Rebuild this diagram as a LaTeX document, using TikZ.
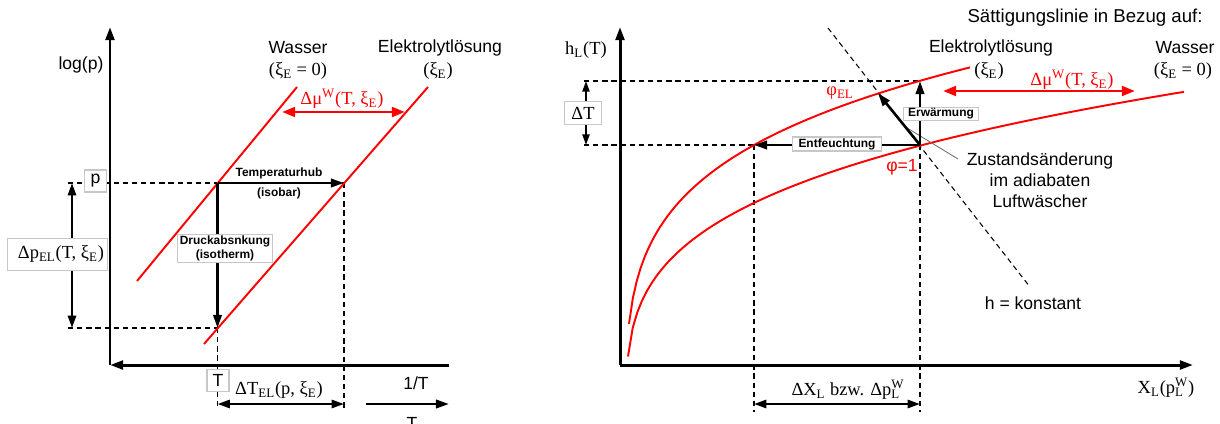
\documentclass[tikz,border=0pt]{standalone}
\usepackage{fontspec}
\setmainfont{Liberation Sans}
\newfontfamily\mfont{Liberation Serif}
\usetikzlibrary{arrows.meta,calc}
\newcommand{\supsub}[2]{{\ooalign{\textsuperscript{#1}\cr\textsubscript{#2}}}}
\begin{document}
\begin{tikzpicture}[x=0.02cm, y=-0.02cm,
  axisline/.style={line width=1.7pt, -{Triangle[length=7.5pt,width=5pt]}},
  proc/.style={line width=1.5pt, -{Triangle[length=7.5pt,width=4.8pt]}},
  dproc/.style={line width=1.4pt, {Triangle[length=7pt,width=4.6pt]}-{Triangle[length=7pt,width=4.6pt]}},
  thinda/.style={line width=1.1pt, {Triangle[length=6pt,width=4pt]}-{Triangle[length=6pt,width=4pt]}},
  redline/.style={red, line width=1.1pt},
  redarrow/.style={red, line width=1.7pt, {Triangle[length=7.5pt,width=5.5pt]}-{Triangle[length=7.5pt,width=5.5pt]}},
  dline/.style={line width=0.6pt, dash pattern=on 3pt off 2.2pt},
  lbox/.style={draw=black!22, fill=white, line width=0.6pt, inner xsep=2pt, inner ysep=1.5pt},
  sf/.style={font=\fontsize{10}{12}\selectfont},
  sfb/.style={font=\bfseries\fontsize{6.8}{8}\selectfont, align=center},
  mf/.style={font=\mfont\fontsize{10.5}{12}\selectfont},
]
\useasboundingbox (0,0) rectangle (1220,423);

% ================= left diagram =================
\coordinate (O1) at (110,365);
\coordinate (Y1) at (110,27);
\coordinate (X1) at (449,365);
\coordinate (W1a) at (297,87);
\coordinate (W1b) at (137,281);
\coordinate (E1a) at (428,87);
\coordinate (E1b) at (204,344);
\coordinate (A) at (217.5,183);
\coordinate (B) at (344,183);
\coordinate (C) at (217.5,328);
\coordinate (pL) at (68,183);
\coordinate (cL) at (68,328);
\coordinate (Ad) at (217.5,410);
\coordinate (Bd) at (344,410);
\coordinate (dpt) at (72,183);
\coordinate (dpb) at (72,328);
\coordinate (dml) at (282,112);
\coordinate (dmr) at (405,112);
\coordinate (tl) at (217.5,404);
\coordinate (tr) at (344,404);
\coordinate (inv1) at (366,404);
\coordinate (inv2) at (449,404);

\draw[dline] (pL) -- (B);
\draw[dline] (cL) -- (C);
\draw[dline] (C) -- (Ad);
\draw[dline] (B) -- (Bd);
\draw[axisline] (O1) -- (Y1);
\draw[axisline] (X1) -- (O1);
\draw[redline] (W1a) -- (W1b);
\draw[redline] (E1a) -- (E1b);
\draw[redarrow] (dml) -- (dmr);
\draw[proc] (A) -- (B);
\draw[proc] (A) -- (C);
\draw[dproc] (dpt) -- (dpb);
\draw[dproc] (tl) -- (tr);
\draw[proc] (inv1) -- (inv2);

\node[sf] (logp) at (81,65) {log(p)};
\node[sf] (wasL) at (298,48) {Wasser};
\node[mf] (wasLx) at (298,71) {(ξ\textsubscript{E} = 0)};
\node[sf] (elL) at (440,48) {Elektrolytlösung};
\node[mf] (elLx) at (438,71) {(ξ\textsubscript{E})};
\node[mf, red] (dmuL) at (342,99) {Δμ\textsuperscript{W}(T, ξ\textsubscript{E})};
\node[sfb] (thub) at (279,173) {Temperaturhub};
\node[sfb] (isob) at (279,193) {(isobar)};
\node[lbox, sfb, inner ysep=1pt, inner xsep=1.5pt] (druck) at (225,248.5) {Druckabsnkung\\(isotherm)};
\node[lbox, sf, minimum width=12pt, minimum height=12.5pt, inner sep=0pt] (pbox) at (95.5,181) {p};
\node[lbox, mf, minimum width=55pt, minimum height=18.5pt] (dpL) at (57.5,254.5) {\hspace*{4pt}Δp\textsubscript{EL}(T, ξ\textsubscript{E})};
\node[lbox, sf, minimum width=12.5pt, minimum height=12pt, inner sep=0pt] (Tbox) at (218,380.5) {T};
\node[mf] (dTel) at (279,390) {ΔT\textsubscript{EL}(p, ξ\textsubscript{E})};
\node[sf] (invT) at (416,383) {1/T};
\node[sf] (Tlow) at (412,423) {T};

% ================= right diagram =================
\coordinate (O2) at (620,365);
\coordinate (Y2) at (620,27);
\coordinate (X2) at (1193,365);
\coordinate (S) at (920,145);
\coordinate (E2) at (754,145);
\coordinate (P) at (878,93.2);
\coordinate (Top) at (920,81);
\coordinate (hl1) at (584,81);
\coordinate (hl2) at (584,145);
\coordinate (E2d) at (754,412);
\coordinate (Sd) at (920,412);
\coordinate (hd1) at (828,28);
\coordinate (hd2) at (1030,287);
\coordinate (dTt) at (586,81);
\coordinate (dTb) at (586,145);
\coordinate (xl) at (754,404);
\coordinate (xr) at (920,404);
\coordinate (dm2l) at (943,91);
\coordinate (dm2r) at (1135,91);
\coordinate (zl) at (958,159);

\draw[dline] (hl1) -- (Top);
\draw[dline] (hl2) -- (S);
\draw[dline] (E2) -- (E2d);
\draw[dline] (S) -- (Sd);
\draw[dline] (hd1) -- (hd2);
\draw[axisline] (O2) -- (Y2);
\draw[axisline] (O2) -- (X2);
\draw[redline] plot[domain=629:970, samples=90, variable=\x] (\x, {502.1-135.1*(\x-625)^0.2});
\draw[redline] plot[domain=628:1184, samples=120, variable=\x] (\x, {430.5-61.4*(\x-626)^0.27});
\draw[redarrow] (dm2l) -- (dm2r);
\draw[thinda] (dTt) -- (dTb);
\draw[black!55, line width=0.5pt] ($(S)!0.35!(P)$) -- (zl);
\draw[proc] (S) -- (Top);
\draw[proc] (S) -- (E2);
\draw[proc] (S) -- (P);
\draw[dproc] (xl) -- (xr);

\node[sf, font=\fontsize{10.6}{12}\selectfont] (satt) at (1085,18) {Sättigungslinie in Bezug auf:};
\node[sf] (elR) at (991,48) {Elektrolytlösung};
\node[mf] (elRx) at (989,71) {(ξ\textsubscript{E})};
\node[sf] (wasR) at (1185,48) {Wasser};
\node[mf] (wasRx) at (1183,71) {(ξ\textsubscript{E} = 0)};
\node[mf, red] (dmuR) at (1072,80) {Δμ\textsuperscript{W}(T, ξ\textsubscript{E})};
\node[mf] (hL) at (586,50) {h\textsubscript{L}(T)};
\node[mf] (XL) at (1166,388) {X\textsubscript{L}(p\supsub{W}{L})};
\node[mf] (dXL) at (848,390) {ΔX\textsubscript{L} bzw. Δp\supsub{W}{L}};
\node[lbox, mf, minimum width=21pt, minimum height=13.5pt, inner sep=0pt] (dTR) at (583,113) {ΔT};
\node[lbox, sfb, inner ysep=0.8pt, inner xsep=2.5pt] (erw) at (941,114) {Erwärmung};
\node[lbox, sfb, inner ysep=0.8pt, inner xsep=3.5pt] (entf) at (837,144) {Entfeuchtung};
\node[mf, red] (phiEL) at (840,93) {φ\textsubscript{EL}};
\node[sf, red] (phi1) at (902,167) {φ=1};
\node[sf, align=center] (zust) at (1040,180) {Zustandsänderung\\im adiabaten\\Luftwäscher};
\node[sf] (hkon) at (1033,303) {h = konstant};
\end{tikzpicture}
\end{document}
